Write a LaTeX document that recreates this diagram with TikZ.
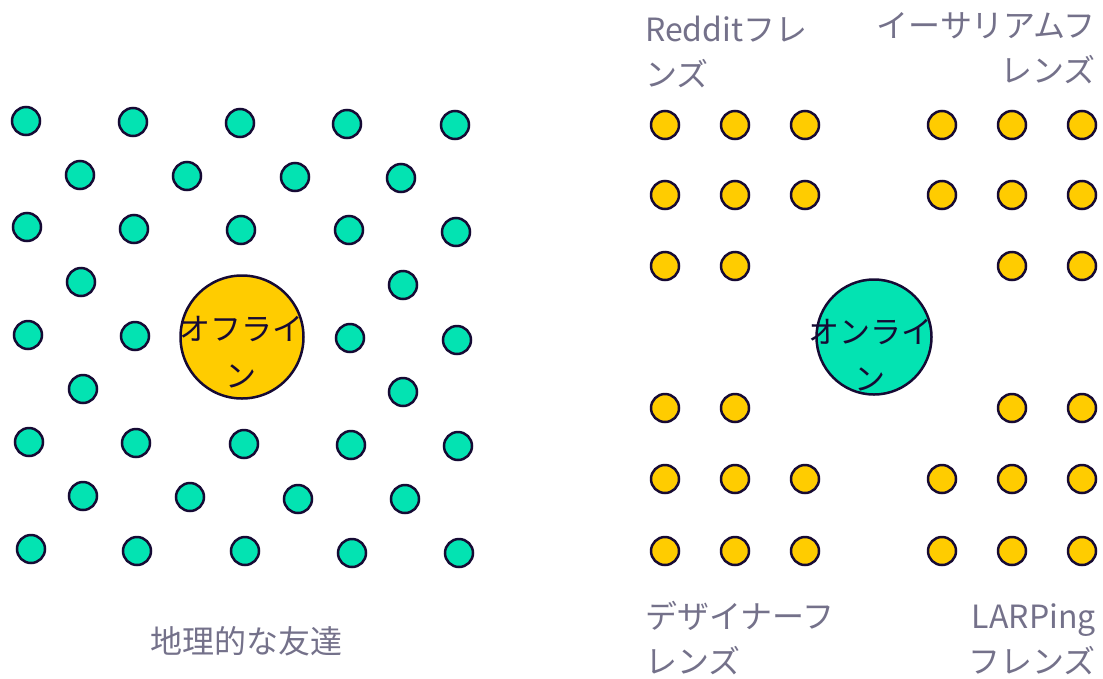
\documentclass[tikz,border=0pt]{standalone}
\usepackage{fontspec}
\setmainfont{Noto Sans CJK JP}
\definecolor{teal}{RGB}{3,227,178}
\definecolor{gold}{RGB}{255,204,0}
\definecolor{ink}{RGB}{22,10,52}
\definecolor{graytxt}{RGB}{116,113,138}
\begin{document}
\begin{tikzpicture}[x=1pt,y=-1pt,
  tdot/.style={circle,draw=ink,line width=2.5pt,fill=teal,minimum size=28pt,inner sep=0pt},
  ydot/.style={circle,draw=ink,line width=2.5pt,fill=gold,minimum size=28pt,inner sep=0pt},
  bigoff/.style={circle,draw=ink,line width=2.5pt,fill=gold,minimum size=123pt,inner sep=0pt},
  bigon/.style={circle,draw=ink,line width=2.5pt,fill=teal,minimum size=115pt,inner sep=0pt},
  intext/.style={text=ink,inner sep=0pt,font=\fontsize{31}{47}\selectfont},
  lbl/.style={text=graytxt,inner sep=0pt,font=\fontsize{32}{45}\selectfont}]
\useasboundingbox (0,0) rectangle (1103,678);
% left: geographic friends
\foreach \px/\py [count=\i] in {26/121,133/122,240/123,347/124,455/125,
  80/175,187/176,295/177,401/178,
  27/227,134/229,241/230,349/230,456/232,
  81/282,403/285,
  28/335,135/336,350/338,457/340,
  83/389,403/392,
  29/442,136/443,244/444,351/445,458/446,
  83/496,190/497,298/499,405/499,
  31/549,137/551,245/551,352/553,459/553}
  \node[tdot] (t\i) at (\px,\py) {};
\node[bigoff] (offline) at (242,337) {};
\node[intext,anchor=base,align=center] (offtxt) at (241,387) {オフライ\\ン};
\node[lbl,anchor=base] (geo) at (246,653) {地理的な友達};
% right: online friends
\foreach \px/\py [count=\i] in {665/125,735/125,805/125,942/125,1012/125,1082/125,
  665/195,735/195,805/195,942/195,1012/195,1082/195,
  665/266,735/266,1012/266,1082/266,
  665/408,735/408,1012/408,1082/408,
  665/479,735/479,805/479,942/479,1012/479,1082/479,
  665/551,735/551,805/551,942/551,1012/551,1082/551}
  \node[ydot] (y\i) at (\px,\py) {};
\node[bigon] (online) at (874,337) {};
\node[intext,anchor=base,align=center] (ontxt) at (870,390) {オンライ\\ン};
\node[lbl,anchor=base west,align=left] (reddit) at (645,86) {Redditフレ\\ンズ};
\node[lbl,anchor=base east,align=right] (eth) at (1096,82) {イーサリアムフ\\レンズ};
\node[lbl,anchor=base west,align=left] (design) at (645,673) {デザイナーフ\\レンズ};
\node[lbl,anchor=base east,align=right] (larp) at (1096,673) {LARPing\\フレンズ};
\end{tikzpicture}
\end{document}
